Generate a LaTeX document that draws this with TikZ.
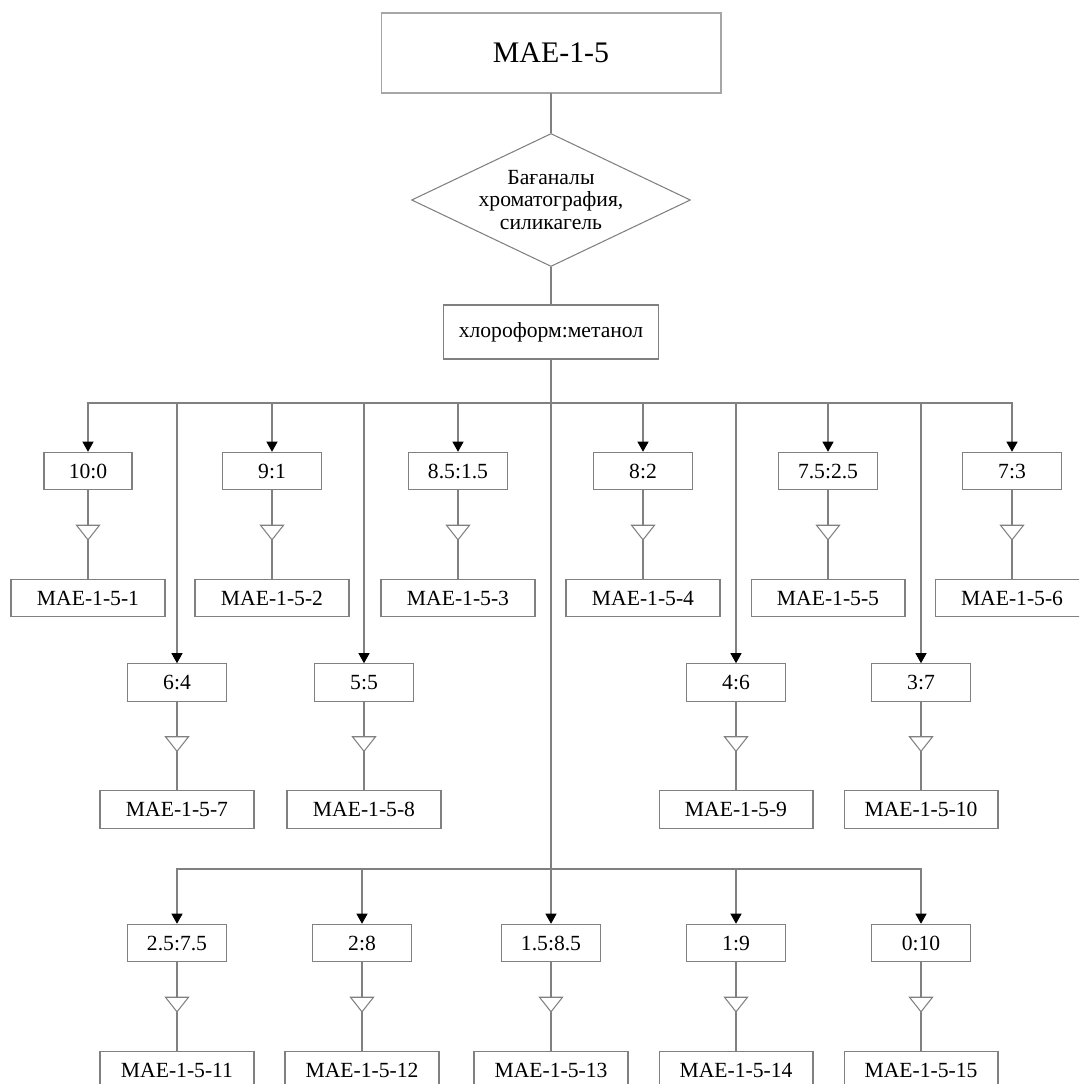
\documentclass[tikz,border=0pt]{standalone}
\usepackage{fontspec}
\setmainfont{Liberation Serif}
\usetikzlibrary{arrows.meta,shapes.geometric,decorations.markings}

\begin{document}
\begin{tikzpicture}[x=0.02cm,y=-0.02cm,line cap=round,
  font=\fontsize{12.3}{12.8}\selectfont,
  ln/.style={draw=black!50,line width=0.6pt},
  arr/.style={ln,-{Triangle[width=2.2mm,length=2mm,color=black]}},
  mid/.style={ln,postaction={decorate},decoration={markings,
    mark=at position 0.57 with {\arrow{Triangle[width=5mm,length=3.2mm,color=black!50,fill=white]}}}},
  box/.style={draw=black!50,line width=0.6pt,inner sep=0pt,minimum height=0.75cm},
  ratio/.style={box,minimum width=1.98cm},
  sample/.style={box,minimum width=3.08cm}]
\useasboundingbox (0,0) rectangle (1079,1084);
\clip (0,0) rectangle (1079,1084);
\node[box,draw=black!35,minimum width=6.8cm,minimum height=1.6cm,font=\fontsize{17}{20}\selectfont] (mae) at (551,53) {MAE-1-5};
\node[ln,diamond,aspect=2.1,inner sep=0pt,align=center,minimum width=5.58cm,minimum height=2.66cm] (chrom) at (551,200) {Бағаналы\\хроматография,\\силикагель};
\node[box,minimum width=4.3cm,minimum height=1.08cm] (solv) at (551,332) {хлороформ:метанол};
\coordinate (bus) at (551,403);
\coordinate (bus2) at (551,869);
\node[ratio,minimum width=1.76cm] (r100) at (88,471) {10:0};
\node[ratio] (r91) at (272,471) {9:1};
\node[ratio] (r8515) at (458,471) {8.5:1.5};
\node[ratio] (r82) at (643,471) {8:2};
\node[ratio] (r7525) at (828,471) {7.5:2.5};
\node[ratio] (r73) at (1012,471) {7:3};
\node[sample] (m1) at (88,598) {MAE-1-5-1};
\node[sample] (m2) at (272,598) {MAE-1-5-2};
\node[sample] (m3) at (458,598) {MAE-1-5-3};
\node[sample] (m4) at (643,598) {MAE-1-5-4};
\node[sample] (m5) at (828,598) {MAE-1-5-5};
\node[sample] (m6) at (1012,598) {MAE-1-5-6};
\node[ratio] (r64) at (177,682.5) {6:4};
\node[ratio] (r55) at (364,682.5) {5:5};
\node[ratio] (r46) at (736,682.5) {4:6};
\node[ratio] (r37) at (921,682.5) {3:7};
\node[sample] (m7) at (177,809.5) {MAE-1-5-7};
\node[sample] (m8) at (364,809.5) {MAE-1-5-8};
\node[sample] (m9) at (736,809.5) {MAE-1-5-9};
\node[sample] (m10) at (921,809.5) {MAE-1-5-10};
\node[ratio] (r2575) at (177,943) {2.5:7.5};
\node[ratio] (r28) at (362,943) {2:8};
\node[ratio] (r1585) at (551,943) {1.5:8.5};
\node[ratio] (r19) at (736,943) {1:9};
\node[ratio] (r010) at (921,943) {0:10};
\node[sample] (m11) at (177,1070) {MAE-1-5-11};
\node[sample] (m12) at (362,1070) {MAE-1-5-12};
\node[sample] (m13) at (551,1070) {MAE-1-5-13};
\node[sample] (m14) at (736,1070) {MAE-1-5-14};
\node[sample] (m15) at (921,1070) {MAE-1-5-15};
\draw[ln] (mae) -- (chrom);
\draw[ln] (chrom) -- (solv);
\draw[arr] (solv) -- (r1585);
\draw[arr] (bus) -| (r100);
\draw[arr] (bus) -| (r91);
\draw[arr] (bus) -| (r8515);
\draw[arr] (bus) -| (r82);
\draw[arr] (bus) -| (r7525);
\draw[arr] (bus) -| (r73);
\draw[arr] (bus) -| (r64);
\draw[arr] (bus) -| (r55);
\draw[arr] (bus) -| (r46);
\draw[arr] (bus) -| (r37);
\draw[arr] (bus2) -| (r2575);
\draw[arr] (bus2) -| (r28);
\draw[arr] (bus2) -| (r19);
\draw[arr] (bus2) -| (r010);
\draw[mid] (r100) -- (m1);
\draw[mid] (r91) -- (m2);
\draw[mid] (r8515) -- (m3);
\draw[mid] (r82) -- (m4);
\draw[mid] (r7525) -- (m5);
\draw[mid] (r73) -- (m6);
\draw[mid] (r64) -- (m7);
\draw[mid] (r55) -- (m8);
\draw[mid] (r46) -- (m9);
\draw[mid] (r37) -- (m10);
\draw[mid] (r2575) -- (m11);
\draw[mid] (r28) -- (m12);
\draw[mid] (r1585) -- (m13);
\draw[mid] (r19) -- (m14);
\draw[mid] (r010) -- (m15);
\end{tikzpicture}
\end{document}
